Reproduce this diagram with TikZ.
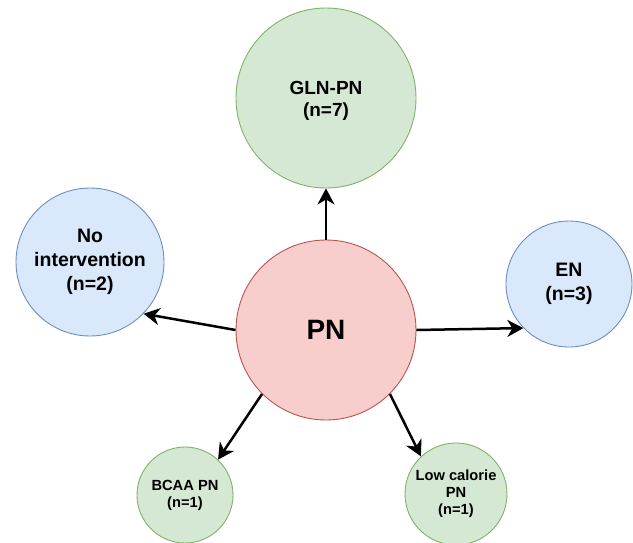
\documentclass[tikz,border=0pt]{standalone}
\usepackage{fontspec}
\setmainfont{Liberation Sans}
\usetikzlibrary{arrows.meta}
\definecolor{gfill}{HTML}{D5E8D4}
\definecolor{gline}{HTML}{82B366}
\definecolor{bfill}{HTML}{DAE8FC}
\definecolor{bline}{HTML}{6C8EBF}
\definecolor{rfill}{HTML}{F8CECC}
\definecolor{rline}{HTML}{B85450}
\tikzset{
  bubble/.style={circle, inner sep=0pt, align=center, line width=0.9pt, font=\bfseries},
  greenb/.style={bubble, fill=gfill, draw=gline},
  blueb/.style={bubble, fill=bfill, draw=bline},
  redb/.style={bubble, fill=rfill, draw=rline},
  big/.style={font=\fontsize{19}{22}\selectfont\bfseries},
  mid/.style={font=\fontsize{19.5}{24}\selectfont\bfseries},
  small/.style={font=\fontsize{14.7}{17}\selectfont\bfseries},
  conn/.style={line width=2.5pt, -{Stealth[length=16pt, width=17pt, inset=5pt]}}
}
\begin{document}
\begin{tikzpicture}[x=1pt, y=-1pt]
\useasboundingbox (0,0) rectangle (633,542);
\node[redb, minimum size=180pt, font=\fontsize{28}{32}\selectfont\bfseries] (PN) at (326,330) {PN};
\node[greenb, big, minimum size=180pt] (GLN) at (326,98) {};
\node[big, align=center, inner sep=0pt] (GLNt) at (326,101) {GLN-PN\\(n=7)};
\node[blueb, mid, minimum size=148pt] (NI) at (90,262) {No\\intervention\\(n=2)};
\node[blueb, mid, minimum size=126pt] (EN) at (569,284) {EN\\(n=3)};
\node[greenb, small, minimum size=96pt] (BC) at (185,495) {BCAA PN\\(n=1)};
\node[greenb, small, minimum size=102pt] (LC) at (456,494) {Low calorie\\PN\\(n=1)};
\draw[conn] (PN.90) -- (GLN.-90);
\draw[conn] (PN.180) -- (NI.-44);
\draw[conn] (PN.0) -- (EN.224);
\draw[conn] (PN.-135) -- (BC.47);
\draw[conn] (PN.-45) -- (LC.133);
\end{tikzpicture}
\end{document}
